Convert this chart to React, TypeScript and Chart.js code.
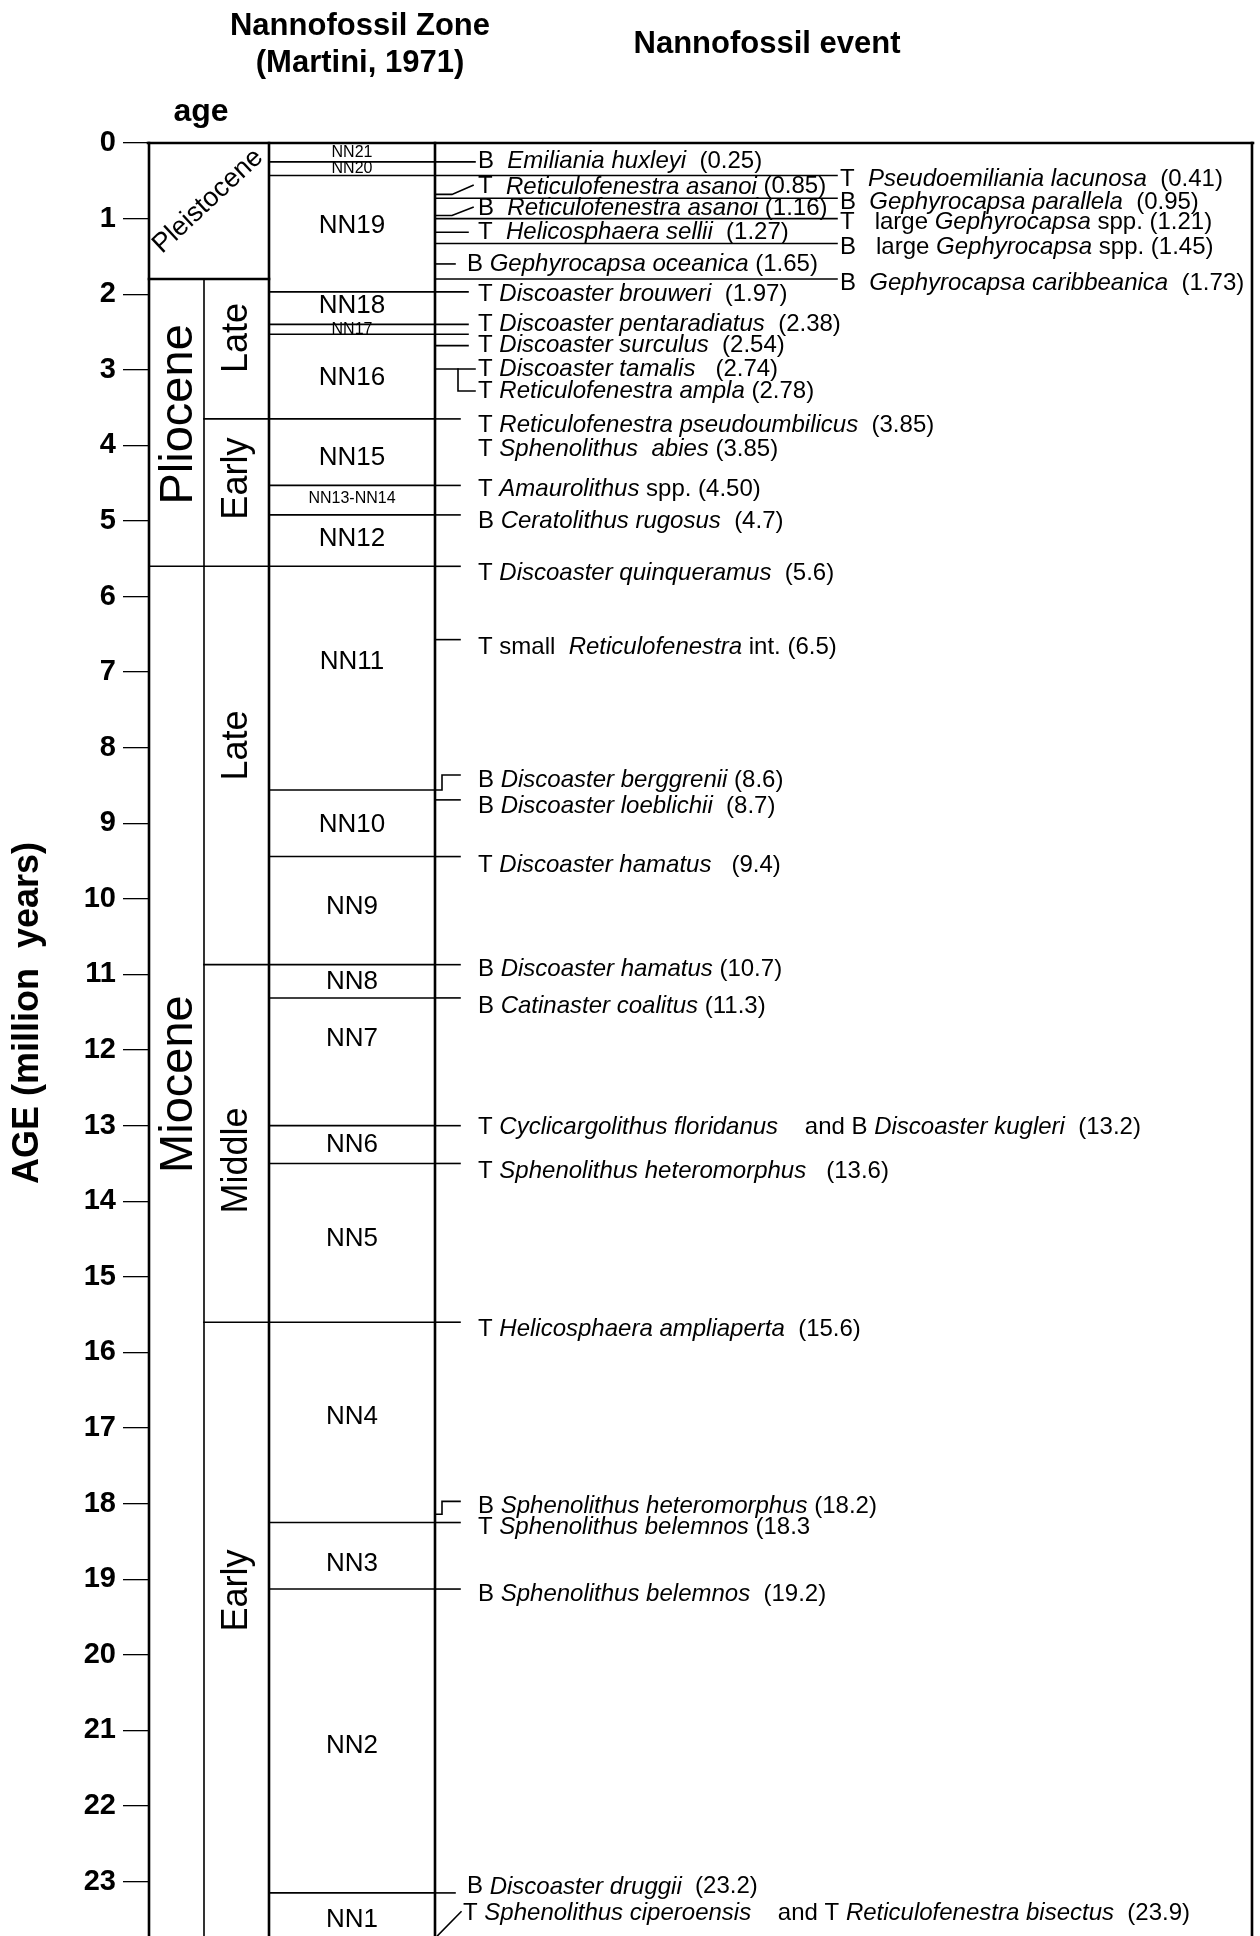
import React, { useEffect, useRef } from 'react';
import { Chart, registerables } from 'chart.js';

Chart.register(...registerables);

const FONT = '"Liberation Sans", Arial, Helvetica, sans-serif';

// ---- axis ----
const AGE_TICKS = [0, 1, 2, 3, 4, 5, 6, 7, 8, 9, 10, 11, 12, 13, 14, 15, 16, 17, 18, 19, 20, 21, 22, 23];
const AGE_MAX = 23.72;

// ---- epochs ----
const EPOCH_NAMES = ['Pleistocene', 'Pliocene', 'Miocene'];
const EPOCH_BOUNDS = [1.8, 5.6];
const EPOCH_LABEL_AT = [0.77, 3.59, 12.45];
const SUBEPOCH_NAMES = ['Late', 'Early', 'Late', 'Middle', 'Early'];
const SUBEPOCH_BOUNDS = [3.65, 10.87, 15.6];
const SUBEPOCH_LABEL_AT = [2.58, 4.44, 7.97, 13.46, 19.15];

// ---- nannofossil zones (Martini, 1971) ----
const ZONE_NAMES = ['NN21', 'NN20', 'NN19', 'NN18', 'NN17', 'NN16', 'NN15', 'NN13-NN14', 'NN12', 'NN11',
  'NN10', 'NN9', 'NN8', 'NN7', 'NN6', 'NN5', 'NN4', 'NN3', 'NN2', 'NN1'];
const ZONE_BOUNDS = [0.25, 0.43, 1.97, 2.40, 2.53, 3.65, 4.53, 4.92, 5.6, 8.56, 9.44, 10.87, 11.31, 13.0, 13.5,
  15.6, 18.25, 19.13, 23.15];
const ZONE_LABEL_AT = [0.13, 0.34, 1.09, 2.15, 2.47, 3.1, 4.17, 4.7, 5.23, 6.86, 9.02, 10.1, 11.1, 11.85, 13.25,
  14.5, 16.85, 18.79, 21.21, 23.5];
const ZONE_SMALL = ['NN21', 'NN20', 'NN17', 'NN13-NN14'];

// ---- nannofossil events (left column) ----
const EVENT_KIND = ['B', 'T', 'B', 'T', 'B', 'T', 'T', 'T', 'T', 'T', 'T', 'T', 'T', 'B', 'T', 'T', 'B', 'B',
  'T', 'B', 'B', 'T', 'T', 'T', 'B', 'T', 'B', 'B', 'T'];
const EVENT_TAXON = [
  ' *Emiliania huxleyi*  ',
  ' *Reticulofenestra asanoi* ',
  ' *Reticulofenestra asanoi* ',
  ' *Helicosphaera sellii*  ',
  '*Gephyrocapsa oceanica* ',
  '*Discoaster brouweri*  ',
  '*Discoaster pentaradiatus*  ',
  '*Discoaster surculus*  ',
  '*Discoaster tamalis*   ',
  '*Reticulofenestra ampla* ',
  '*Reticulofenestra pseudoumbilicus*  ',
  '*Sphenolithus  abies* ',
  '*Amaurolithus* spp. ',
  '*Ceratolithus rugosus*  ',
  '*Discoaster quinqueramus*  ',
  'small  *Reticulofenestra* int. ',
  '*Discoaster berggrenii* ',
  '*Discoaster loeblichii*  ',
  '*Discoaster hamatus*   ',
  '*Discoaster hamatus* ',
  '*Catinaster coalitus* ',
  '*Cyclicargolithus floridanus*    and B *Discoaster kugleri*  ',
  '*Sphenolithus heteromorphus*   ',
  '*Helicosphaera ampliaperta*  ',
  '*Sphenolithus heteromorphus* ',
  '*Sphenolithus belemnos* ',
  '*Sphenolithus belemnos*  ',
  '*Discoaster druggii*  ',
  '*Sphenolithus ciperoensis*    and T *Reticulofenestra bisectus*  ',
];
const EVENT_AGE = ['(0.25)', '(0.85)', '(1.16)', '(1.27)', '(1.65)', '(1.97)', '(2.38)', '(2.54)', '(2.74)',
  '(2.78)', '(3.85)', '(3.85)', '(4.50)', '(4.7)', '(5.6)', '(6.5)', '(8.6)', '(8.7)', '(9.4)', '(10.7)',
  '(11.3)', '(13.2)', '(13.6)', '(15.6)', '(18.2)', '(18.3', '(19.2)', '(23.2)', '(23.9)'];
const EVENT_LABEL_AT = [0.24, 0.58, 0.87, 1.18, 1.6, 2.0, 2.40, 2.68, 2.99, 3.28, 3.74, 4.05, 4.58, 5.0, 5.69,
  6.67, 8.43, 8.77, 9.56, 10.93, 11.42, 13.02, 13.6, 15.69, 18.04, 18.32, 19.2, 23.07, 23.42];
const EVENT_LEADER = ['dash', 'kink', 'kink', 'long', 'near', 'long', 'long', 'long', 'dash', 'branch', 'line',
  'none', 'line', 'line', 'line', 'line', 'step', 'line', 'line', 'line', 'line', 'line', 'line', 'line', 'step',
  'line', 'line', 'near', 'diag'];
const EVENT_LEADER_AT: number[][] = [[0.25], [0.68], [0.96], [1.18], [1.6], [1.97], [2.40, 2.53], [2.68], [2.99],
  [2.99], [3.65], [], [4.53], [4.92], [5.6], [6.57], [8.56], [8.69], [9.44], [10.87], [11.31], [13.0], [13.5],
  [15.6], [18.14], [18.25], [19.13], [23.15], [23.75]];

// ---- nannofossil events (right column) ----
const RIGHT_KIND = ['T', 'B', 'T', 'B', 'B'];
const RIGHT_TAXON = [
  ' *Pseudoemiliania lacunosa*  ',
  ' *Gephyrocapsa parallela*  ',
  '  large *Gephyrocapsa* spp. ',
  '  large *Gephyrocapsa* spp. ',
  ' *Gephyrocapsa caribbeanica*  ',
];
const RIGHT_AGE = ['(0.41)', '(0.95)', '(1.21)', '(1.45)', '(1.73)'];
const RIGHT_LINE_AT = [0.43, 0.73, 1.0, 1.33, 1.8];

// ---- layout (pixels) ----
const X_EPOCH = 149;
const X_SUB = 204;
const X_ZONE_L = 269;
const X_ZONE_R = 435;
const X_FRAME_R = 1252;
const X_TEXT = 478;
const X_RIGHT_TEXT = 840;
const THICK = 2.6;
const THIN = 1.6;

type Seg = { pts: [number, number][]; w: number };

function buildSegments(): Seg[] {
  const segs: Seg[] = [];
  const H = (age: number, x0: number, x1: number, w = THIN) => segs.push({ pts: [[x0, age], [x1, age]], w });
  const V = (x: number, a0: number, a1: number, w = THIN) => segs.push({ pts: [[x, a0], [x, a1]], w });
  // frame and columns
  H(0, X_EPOCH - 1, X_FRAME_R + 1, THICK);
  V(X_EPOCH, 0, AGE_MAX, THICK);
  V(X_SUB, EPOCH_BOUNDS[0], AGE_MAX, THIN);
  V(X_ZONE_L, 0, AGE_MAX, THICK);
  V(X_ZONE_R, 0, AGE_MAX, THICK);
  V(X_FRAME_R, 0, AGE_MAX, THICK);
  EPOCH_BOUNDS.forEach((a, i) => H(a, X_EPOCH, X_ZONE_L, i === 0 ? THICK : THIN));
  SUBEPOCH_BOUNDS.forEach((a) => H(a, X_SUB, X_ZONE_L, THIN));
  ZONE_BOUNDS.forEach((a) => H(a, X_ZONE_L, X_ZONE_R, THIN));
  // leaders of left events
  EVENT_LEADER.forEach((kind, i) => {
    const lab = EVENT_LABEL_AT[i];
    EVENT_LEADER_AT[i].forEach((at) => {
      if (kind === 'line') H(at, X_ZONE_R, 460);
      else if (kind === 'long') H(at, X_ZONE_R, 468);
      else if (kind === 'near') H(at, X_ZONE_R, 455);
      else if (kind === 'dash') H(at, X_ZONE_R, X_TEXT - 3);
      else if (kind === 'kink') segs.push({ pts: [[X_ZONE_R, at], [452, at], [X_TEXT - 5, lab - 0.02]], w: THIN });
      else if (kind === 'branch') segs.push({ pts: [[458, at], [458, lab], [X_TEXT - 3, lab]], w: THIN });
      else if (kind === 'step') segs.push({ pts: [[X_ZONE_R, at], [442, at], [442, lab - 0.07], [460, lab - 0.07]], w: THIN });
      else if (kind === 'diag') segs.push({ pts: [[X_ZONE_R, at], [X_TEXT - 17, lab - 0.02]], w: THIN });
    });
  });
  // lines to right-hand events
  RIGHT_LINE_AT.forEach((a) => H(a, X_ZONE_R, X_RIGHT_TEXT - 3, THIN));
  return segs;
}

function drawRich(ctx: CanvasRenderingContext2D, text: string, x: number, y: number, size: number) {
  const parts = text.split('*');
  let cx = x;
  parts.forEach((p, i) => {
    if (!p) return;
    ctx.font = `${i % 2 ? 'italic ' : ''}${size}px ${FONT}`;
    ctx.fillText(p, cx, y);
    cx += ctx.measureText(p).width;
  });
}

const textPlugin = {
  id: 'stratText',
  afterDatasetsDraw(chart: any) {
    const ctx: CanvasRenderingContext2D = chart.ctx;
    const ys = chart.scales.y;
    const xs = chart.scales.x;
    const Y = (a: number) => ys.getPixelForValue(a);
    const X = (v: number) => xs.getPixelForValue(v);
    ctx.save();
    ctx.fillStyle = '#000';
    ctx.textBaseline = 'middle';

    // headings
    ctx.textAlign = 'center';
    ctx.font = `bold 31px ${FONT}`;
    ctx.fillText('Nannofossil Zone', 360, 26);
    ctx.fillText('(Martini, 1971)', 360, 63);
    ctx.fillText('Nannofossil event', 767, 44);
    ctx.font = `bold 32px ${FONT}`;
    ctx.fillText('age', 201, 112);

    // axis title
    ctx.save();
    ctx.translate(28, 1013);
    ctx.rotate(-Math.PI / 2);
    ctx.font = `bold 36px ${FONT}`;
    ctx.fillText('AGE (million  years)', 0, 0);
    ctx.restore();

    // epochs
    ctx.save();
    ctx.translate(X(208), Y(EPOCH_LABEL_AT[0]));
    ctx.rotate(-43 * Math.PI / 180);
    ctx.font = `27px ${FONT}`;
    ctx.fillText(EPOCH_NAMES[0], 0, 0);
    ctx.restore();
    for (let i = 1; i < EPOCH_NAMES.length; i++) {
      ctx.save();
      ctx.translate(X(179), Y(EPOCH_LABEL_AT[i]));
      ctx.rotate(-Math.PI / 2);
      ctx.font = `47px ${FONT}`;
      ctx.fillText(EPOCH_NAMES[i], 0, 0);
      ctx.restore();
    }
    SUBEPOCH_NAMES.forEach((n, i) => {
      ctx.save();
      ctx.translate(X(237), Y(SUBEPOCH_LABEL_AT[i]));
      ctx.rotate(-Math.PI / 2);
      ctx.font = `36px ${FONT}`;
      ctx.fillText(n, 0, 0);
      ctx.restore();
    });

    // zones
    ZONE_NAMES.forEach((n, i) => {
      const small = ZONE_SMALL.includes(n);
      ctx.font = `${small ? 16 : 26}px ${FONT}`;
      ctx.fillText(n, X((X_ZONE_L + X_ZONE_R) / 2), Y(ZONE_LABEL_AT[i]));
    });

    // events
    ctx.textAlign = 'left';
    EVENT_KIND.forEach((k, i) => {
      const lead = EVENT_LEADER[i];
      const x0 = lead === 'near' ? X_TEXT - 11 : lead === 'diag' ? X_TEXT - 15 : X_TEXT;
      drawRich(ctx, `${k} ${EVENT_TAXON[i]}${EVENT_AGE[i]}`, X(x0), Y(EVENT_LABEL_AT[i]), 24);
    });
    RIGHT_KIND.forEach((k, i) => {
      drawRich(ctx, `${k} ${RIGHT_TAXON[i]}${RIGHT_AGE[i]}`, X(X_RIGHT_TEXT), Y(RIGHT_LINE_AT[i]) + 4, 24);
    });
    ctx.restore();
  },
};

export default function App() {
  const ref = useRef<HTMLCanvasElement | null>(null);
  useEffect(() => {
    document.body.style.margin = '0';
    document.body.style.background = '#fff';
    const canvas = ref.current;
    if (!canvas) return;
    const segs = buildSegments();
    const chart = new Chart(canvas, {
      type: 'scatter',
      data: {
        datasets: segs.map((s) => ({
          data: s.pts.map(([x, y]) => ({ x, y })),
          showLine: true,
          borderColor: '#000',
          backgroundColor: '#000',
          borderWidth: s.w,
          pointRadius: 0,
          pointHoverRadius: 0,
          fill: false,
          tension: 0,
          clip: false as any,
          borderCapStyle: 'square' as const,
          borderJoinStyle: 'miter' as const,
        })),
      },
      options: {
        responsive: false,
        maintainAspectRatio: false,
        animation: false,
        events: [],
        layout: { padding: { top: 143, right: 8, bottom: 0, left: 0 } },
        plugins: { legend: { display: false }, tooltip: { enabled: false }, title: { display: false } },
        scales: {
          x: { type: 'linear', display: false, min: X_EPOCH - 1, max: X_FRAME_R },
          y: {
            type: 'linear',
            reverse: true,
            min: 0,
            max: AGE_MAX,
            afterBuildTicks: (scale: any) => {
              scale.ticks = AGE_TICKS.map((v) => ({ value: v }));
            },
            afterFit: (scale: any) => {
              scale.width = X_EPOCH - 1;
              scale.paddingTop = 0;
              scale.paddingBottom = 0;
            },
            ticks: {
              color: '#000',
              padding: 7,
              font: { family: FONT, size: 29, weight: 'bold' },
              callback: (v: any) => String(v),
            },
            grid: {
              display: true,
              drawOnChartArea: false,
              drawTicks: true,
              tickLength: 25,
              color: '#000',
              lineWidth: 1.3,
            },
            border: { display: false },
          },
        },
      },
      plugins: [textPlugin],
    });
    return () => chart.destroy();
  }, []);
  return <canvas ref={ref} width={1260} height={1936} style={{ display: 'block', width: 1260, height: 1936 }} />;
}
